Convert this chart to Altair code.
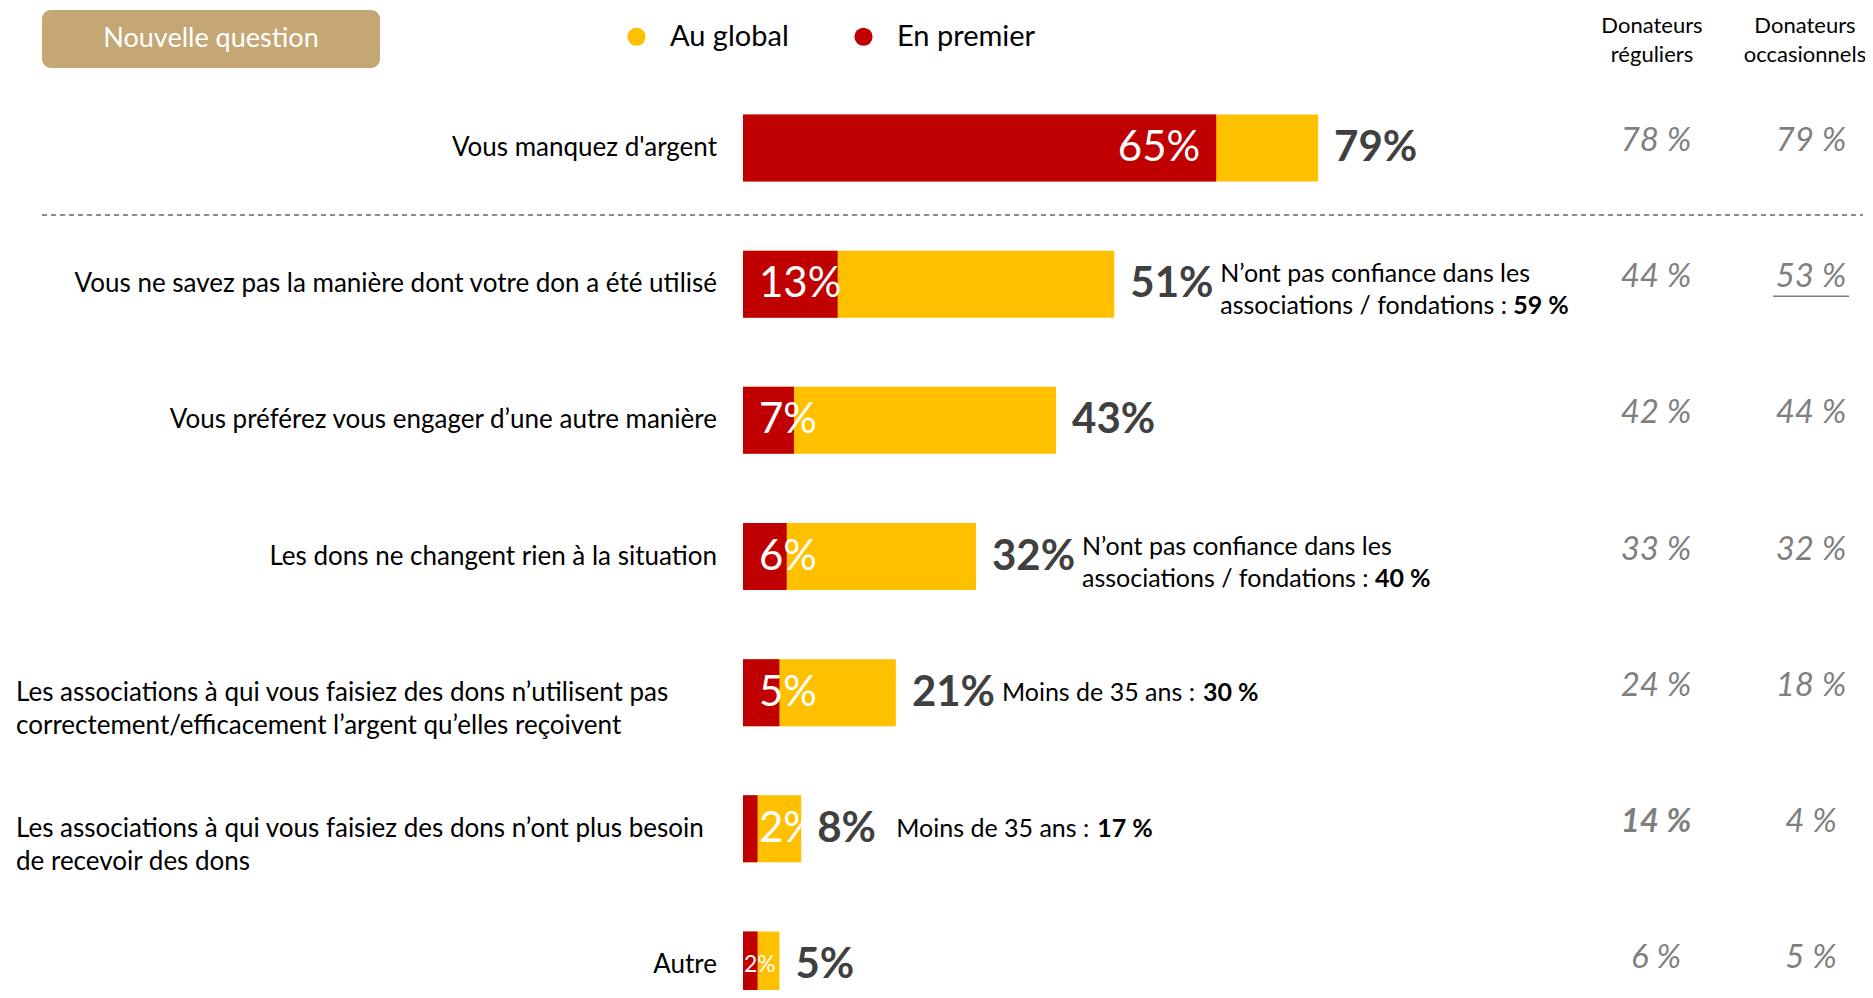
import altair as alt
import pandas as pd

# ---------------- data ----------------
categories = [
    "Vous manquez d'argent",
    "Vous ne savez pas la manière dont votre don a été utilisé",
    "Vous préférez vous engager d’une autre manière",
    "Les dons ne changent rien à la situation",
    "Les associations à qui vous faisiez des dons n’utilisent pas\ncorrectement/efficacement l’argent qu’elles reçoivent",
    "Les associations à qui vous faisiez des dons n’ont plus besoin\nde recevoir des dons",
    "Autre",
]
series_names = ["Au global", "En premier"]
en_premier = [65, 13, 7, 6, 5, 2, 2]
au_global = [79, 51, 43, 32, 21, 8, 5]
donateurs_reguliers = [78, 44, 42, 33, 24, 14, 6]
donateurs_occasionnels = [79, 53, 44, 32, 18, 4, 5]
note_line1 = ["", "N’ont pas confiance dans les", "", "N’ont pas confiance dans les", "", "", ""]
note_line2 = ["", "associations / fondations : ", "", "associations / fondations : ",
              "Moins de 35 ans : ", "Moins de 35 ans : ", ""]
note_value = ["", "59 %", "", "40 %", "30 %", "17 %", ""]
headers = ["Donateurs\nréguliers", "Donateurs\noccasionnels"]
button_text = ["Nouvelle question"]

# ---------------- tables ----------------
rows = pd.DataFrame({
    "cat": categories,
    "idx": list(range(len(categories))),
    "premier": en_premier,
    "total": au_global,
    "premier_lbl": [f"{v}%" for v in en_premier],
    "total_lbl": [f"{v}%" for v in au_global],
    "reg_lbl": [f"{v} %" for v in donateurs_reguliers],
    "occ_lbl": [f"{v} %" for v in donateurs_occasionnels],
    "n1": note_line1,
    "n2": note_line2,
    "nv": note_value,
})
rows["multi"] = rows["cat"].str.contains("\n")
rows["zero"] = 0

bars = pd.concat([
    pd.DataFrame({"cat": categories, "series": series_names[0], "value": au_global, "ord": 0}),
    pd.DataFrame({"cat": categories, "series": series_names[1], "value": en_premier, "ord": 1}),
], ignore_index=True)

FONT = "Lato"
RED = "#C00000"
YELLOW = "#FFC000"
GREY = "#7F7F7F"
DARK = "#404040"

y_scale = alt.Scale(domain=categories, range=[72, 1025], paddingInner=0.508, paddingOuter=0.254)
x_scale = alt.Scale(domain=[0, 100], range=[735, 1463], nice=False, zero=False)


def Y():
    return alt.Y("cat:N", scale=y_scale, axis=None)


def X(field):
    return alt.X(f"{field}:Q", scale=x_scale, axis=None)


base = alt.Chart(rows)

# button
btn_df = pd.DataFrame({"t": button_text})
button = alt.Chart(btn_df).mark_rect(color="#C4A775", cornerRadius=9).encode(
    x=alt.value(34), x2=alt.value(372), y=alt.value(2), y2=alt.value(60))
button_lbl = alt.Chart(btn_df).mark_text(font=FONT, fontSize=27, color="white").encode(
    x=alt.value(203), y=alt.value(31), text="t:N")

# headers
hdr_df = pd.DataFrame({"h": headers, "i": [0, 1]})
hdr1 = alt.Chart(hdr_df).transform_filter(alt.datum.i == 0).mark_text(
    font=FONT, fontSize=22, color="black", lineBreak="\n", lineHeight=29).encode(
    x=alt.value(1644), y=alt.value(18), text="h:N")
hdr2 = alt.Chart(hdr_df).transform_filter(alt.datum.i == 1).mark_text(
    font=FONT, fontSize=22, color="black", lineBreak="\n", lineHeight=29).encode(
    x=alt.value(1797), y=alt.value(18), text="h:N")

# dashed separator
sep = alt.Chart(btn_df).mark_rule(color="#8C8C8C", strokeDash=[5, 4], strokeWidth=1.8).encode(
    x=alt.value(34), x2=alt.value(1855), y=alt.value(207))

# bars
bar_layer = alt.Chart(bars).mark_bar(size=67).encode(
    x=alt.X("value:Q", scale=x_scale, axis=None, stack=None),
    y=Y(),
    color=alt.Color("series:N",
                    scale=alt.Scale(domain=series_names, range=[YELLOW, RED]),
                    legend=alt.Legend(orient="none", legendX=614, legendY=14, direction="horizontal",
                                      title=None, symbolType="circle", symbolSize=330,
                                      symbolStrokeWidth=0, labelFont=FONT, labelFontSize=29,
                                      labelColor="black", labelOffset=19, columnPadding=60,
                                      padding=0)),
    order=alt.Order("ord:Q"),
)

# labels inside red bars
inner_first = base.transform_filter(alt.datum.idx == 0).mark_text(
    font=FONT, fontSize=42, color="white", align="right", baseline="middle", dx=-16).encode(
    x=X("premier"), y=Y(), text="premier_lbl:N")
inner_mid = base.transform_filter((alt.datum.idx > 0) & (alt.datum.idx < 6)).mark_text(
    font=FONT, fontSize=42, color="white", align="left", baseline="middle", dx=16).encode(
    x=X("zero"), y=Y(), text="premier_lbl:N")
inner_last = base.transform_filter(alt.datum.idx == 6).mark_text(
    font=FONT, fontSize=23, color="white", align="left", baseline="middle", dx=1).encode(
    x=X("zero"), y=Y(), text="premier_lbl:N")

# total labels
totals = base.mark_text(font=FONT, fontSize=42, fontWeight="bold", color=DARK,
                        align="left", baseline="middle", dx=16).encode(
    x=X("total"), y=Y(), text="total_lbl:N")

# category labels
cat_single = base.transform_filter(~alt.datum.multi).mark_text(
    font=FONT, fontSize=26, color="black", align="right", baseline="middle").encode(
    x=alt.value(709), y=Y(), text="cat:N")
cat_multi = base.transform_filter(alt.datum.multi).mark_text(
    font=FONT, fontSize=26, color="black", align="left", baseline="middle",
    lineBreak="\n", lineHeight=33).encode(
    x=alt.value(8), y=Y(), text="cat:N")

# annotations
two = base.transform_filter(alt.datum.n1 != "")
ann_l1 = two.mark_text(font=FONT, fontSize=25, color="black", align="left",
                       baseline="middle", dx=106, dy=-10).encode(
    x=X("total"), y=Y(), text="n1:N")
ann_l2 = two.mark_text(font=FONT, fontSize=25, color="black", align="left",
                       baseline="middle", dx=106, dy=22).encode(
    x=X("total"), y=Y(), text="n2:N")
ann_v2 = two.mark_text(font=FONT, fontSize=25, fontWeight="bold", color="black", align="left",
                       baseline="middle", dx=106 + 293, dy=22).encode(
    x=X("total"), y=Y(), text="nv:N")

single_layers = []
for i, off in [(4, 106), (5, 95)]:
    one = base.transform_filter(alt.datum.idx == i)
    single_layers.append(one.mark_text(font=FONT, fontSize=25, color="black", align="left",
                                       baseline="middle", dx=off).encode(
        x=X("total"), y=Y(), text="n2:N"))
    single_layers.append(one.mark_text(font=FONT, fontSize=25, fontWeight="bold", color="black",
                                       align="left", baseline="middle", dx=off + 201).encode(
        x=X("total"), y=Y(), text="nv:N"))

# right-hand columns
reg = base.transform_filter(alt.datum.idx != 5).mark_text(
    font=FONT, fontSize=33, fontStyle="italic", color=GREY, align="center",
    baseline="middle", dy=-7).encode(x=alt.value(1648), y=Y(), text="reg_lbl:N")
reg_bold = base.transform_filter(alt.datum.idx == 5).mark_text(
    font=FONT, fontSize=33, fontStyle="italic", fontWeight="bold", color=GREY, align="center",
    baseline="middle", dy=-7).encode(x=alt.value(1648), y=Y(), text="reg_lbl:N")
occ = base.mark_text(
    font=FONT, fontSize=33, fontStyle="italic", color=GREY, align="center",
    baseline="middle", dy=-7).encode(x=alt.value(1803), y=Y(), text="occ_lbl:N")
occ_ul = base.transform_filter(alt.datum.idx == 1).mark_rule(
    color=GREY, strokeWidth=1.5, yOffset=12).encode(
    x=alt.value(1765), x2=alt.value(1841), y=Y())

chart = alt.layer(
    button, button_lbl, hdr1, hdr2, sep, bar_layer,
    inner_first, inner_mid, inner_last, totals,
    cat_single, cat_multi,
    ann_l1, ann_l2, ann_v2, *single_layers,
    reg, reg_bold, occ, occ_ul,
).properties(
    width=1857, height=982,
    autosize=alt.AutoSizeParams(type="none"),
    padding=0,
).configure(font=FONT, background="white").configure_view(stroke=None)

chart.save("out.html", embed_options={"renderer": "svg", "actions": False})
